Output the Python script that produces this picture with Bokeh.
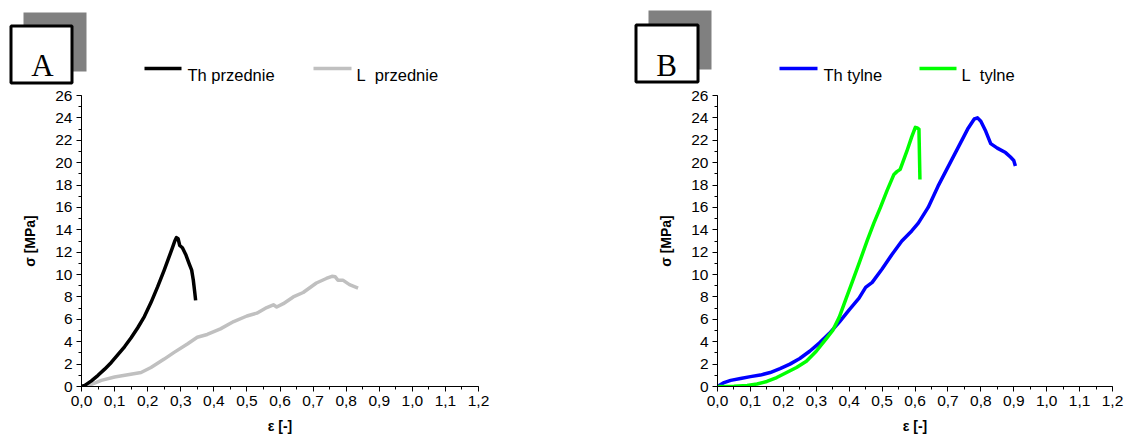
from bokeh.plotting import figure
from bokeh.layouts import column, row
from bokeh.models import Range1d, FixedTicker, CustomJSTickFormatter
from bokeh.embed import file_html
from bokeh.resources import INLINE
from bokeh.core.properties import value

# ---------------- data ----------------
th_przednie_eps = [0.0, 0.01, 0.03, 0.05, 0.07, 0.09, 0.11, 0.13, 0.15, 0.17, 0.19, 0.21, 0.23, 0.25, 0.265,
                   0.275, 0.282, 0.287, 0.292, 0.297, 0.305, 0.315, 0.325, 0.333, 0.338, 0.342, 0.345]
th_przednie_sig = [0.0, 0.1, 0.5, 1.0, 1.55, 2.15, 2.85, 3.55, 4.35, 5.25, 6.25, 7.5, 8.9, 10.4, 11.6,
                   12.4, 13.0, 13.3, 13.2, 12.6, 12.4, 11.8, 11.0, 10.4, 9.5, 8.5, 7.7]

l_przednie_eps = [0.0, 0.03, 0.06, 0.10, 0.14, 0.18, 0.21, 0.25, 0.28, 0.32, 0.35, 0.38, 0.42, 0.46, 0.50, 0.53,
                  0.56, 0.58, 0.59, 0.61, 0.64, 0.67, 0.71, 0.74, 0.757, 0.767, 0.775, 0.79, 0.81, 0.836]
l_przednie_sig = [0.0, 0.2, 0.55, 0.85, 1.05, 1.25, 1.7, 2.45, 3.05, 3.8, 4.4, 4.65, 5.15, 5.8, 6.3, 6.55,
                  7.05, 7.3, 7.1, 7.4, 8.0, 8.4, 9.25, 9.65, 9.85, 9.8, 9.5, 9.5, 9.1, 8.8]

th_tylne_eps = [0.0, 0.02, 0.04, 0.07, 0.10, 0.13, 0.16, 0.19, 0.22, 0.25, 0.28, 0.31, 0.34, 0.37, 0.40, 0.43,
                0.45, 0.47, 0.50, 0.53, 0.56, 0.59, 0.61, 0.64, 0.67, 0.70, 0.73, 0.76, 0.78, 0.79, 0.80,
                0.815, 0.83, 0.85, 0.875, 0.89, 0.90, 0.905]
th_tylne_sig = [0.0, 0.35, 0.55, 0.72, 0.88, 1.02, 1.25, 1.6, 2.0, 2.5, 3.15, 3.9, 4.75, 5.75, 6.85, 7.9,
                8.85, 9.3, 10.5, 11.8, 13.0, 13.9, 14.6, 16.0, 17.9, 19.6, 21.3, 23.0, 23.9, 24.0, 23.7,
                22.8, 21.7, 21.3, 20.9, 20.5, 20.2, 19.7]

l_tylne_eps = [0.0, 0.05, 0.09, 0.12, 0.15, 0.18, 0.21, 0.24, 0.27, 0.30, 0.33, 0.35, 0.37, 0.39, 0.41, 0.43,
               0.455, 0.475, 0.495, 0.515, 0.536, 0.545, 0.555, 0.575, 0.59, 0.601, 0.607, 0.612, 0.615]
l_tylne_sig = [0.0, 0.02, 0.09, 0.22, 0.45, 0.8, 1.25, 1.7, 2.25, 3.15, 4.25, 5.0, 6.2, 7.8, 9.4, 11.0,
               13.05, 14.6, 16.0, 17.5, 18.95, 19.2, 19.4, 21.0, 22.3, 23.15, 23.1, 23.0, 18.5]

x_ticks = [0.0, 0.1, 0.2, 0.3, 0.4, 0.5, 0.6, 0.7, 0.8, 0.9, 1.0, 1.1, 1.2]
x_tick_labels = ["0,0", "0,1", "0,2", "0,3", "0,4", "0,5", "0,6", "0,7", "0,8", "0,9", "1,0", "1,1", "1,2"]
x_minor = [0.0, 0.05, 0.1, 0.15, 0.2, 0.25, 0.3, 0.35, 0.4, 0.45, 0.5, 0.55, 0.6, 0.65, 0.7, 0.75, 0.8,
           0.85, 0.9, 0.95, 1.0, 1.05, 1.1, 1.15, 1.2]
y_ticks = [0, 2, 4, 6, 8, 10, 12, 14, 16, 18, 20, 22, 24, 26]
y_minor = list(range(0, 27))

panel_letters = ["A", "B"]
legend_a = ["Th przednie", "L\u00a0 przednie"]
legend_b = ["Th tylne", "L\u00a0 tylne"]
x_label = "ε [-]"
y_label = "σ [MPa]"

FONT = "Liberation Sans"


def style(p):
    p.grid.grid_line_color = None
    p.outline_line_color = None
    p.background_fill_color = "white"
    p.xaxis.ticker = FixedTicker(ticks=x_ticks, minor_ticks=x_minor)
    p.yaxis.ticker = FixedTicker(ticks=y_ticks, minor_ticks=y_minor)
    p.xaxis.formatter = CustomJSTickFormatter(
        args=dict(xt=x_ticks, labs=x_tick_labels),
        code="""let b = 0;
for (let i = 0; i < xt.length; i++) {
  if (Math.abs(xt[i] - tick) < Math.abs(xt[b] - tick)) b = i;
}
return labs[b];""")
    for ax in (p.xaxis[0], p.yaxis[0]):
        ax.axis_line_color = "black"
        ax.axis_line_width = 1
        ax.major_tick_line_color = "black"
        ax.minor_tick_line_color = "black"
        ax.major_tick_out = 5
        ax.major_tick_in = 0
        ax.minor_tick_out = 3
        ax.minor_tick_in = 0
        ax.major_label_text_font = FONT
        ax.major_label_text_font_size = "15.5px"
        ax.major_label_text_color = "black"
        ax.axis_label_text_font = FONT
        ax.axis_label_text_font_size = "14px"
        ax.axis_label_text_font_style = "bold"
        ax.axis_label_text_color = "black"
        ax.major_label_standoff = 4
    p.xaxis.axis_label = x_label
    p.yaxis.axis_label = y_label
    p.xaxis.axis_label_standoff = 9
    p.yaxis.axis_label_standoff = 14


pa = figure(width=563, height=352, x_range=Range1d(0, 1.2), y_range=Range1d(0, 26),
            toolbar_location=None, output_backend="svg",
            min_border_left=81, min_border_right=85, min_border_top=9, min_border_bottom=52)
style(pa)
pa.line(l_przednie_eps, l_przednie_sig, line_color="#c0c0c0", line_width=3.5, line_join="round")
pa.line(th_przednie_eps, th_przednie_sig, line_color="black", line_width=3.5, line_join="round")

pb = figure(width=562, height=352, x_range=Range1d(0, 1.2), y_range=Range1d(0, 26),
            toolbar_location=None, output_backend="svg",
            min_border_left=154, min_border_right=13, min_border_top=9, min_border_bottom=52)
style(pb)
pb.line(th_tylne_eps, th_tylne_sig, line_color="#0000ff", line_width=3.5, line_join="round")
pb.line(l_tylne_eps, l_tylne_sig, line_color="#00ff00", line_width=3.5, line_join="round")

# ---------------- header (panel letters and legends) ----------------
hdr = figure(width=1125, height=86, x_range=Range1d(0, 1125), y_range=Range1d(86, 0),
             toolbar_location=None, output_backend="svg", min_border=0,
             x_axis_type=None, y_axis_type=None, outline_line_color=None)
hdr.grid.visible = False

hdr.quad(left=[23, 648], right=[86, 711], top=[12, 10], bottom=[71, 69],
         fill_color="#808080", line_color=None)
hdr.quad(left=[10.5, 635.5], right=[71.5, 697.5], top=[25.5, 24.5], bottom=[82.5, 81.5],
         fill_color="white", line_color="black", line_width=3)
hdr.text(x=[42, 666], y=[65, 65], text=panel_letters, text_font=value("Liberation Serif"),
         text_font_size="31px", text_align="center", text_baseline="alphabetic", text_color="black")

hdr.segment(x0=[144, 313], y0=[68, 68], x1=[181, 351], y1=[68, 68],
            line_color=["black", "#c0c0c0"], line_width=3.5)
hdr.text(x=[187, 356], y=[74, 74], text=legend_a, text_font=value(FONT), text_font_size="16.5px",
         text_align="left", text_baseline="alphabetic", text_color="black")

hdr.segment(x0=[779, 919], y0=[68, 68], x1=[817, 956], y1=[68, 68],
            line_color=["#0000ff", "#00ff00"], line_width=3.5)
hdr.text(x=[823, 961], y=[74, 74], text=legend_b, text_font=value(FONT), text_font_size="16.5px",
         text_align="left", text_baseline="alphabetic", text_color="black")

layout = column(hdr, row(pa, pb))
open("out.html", "w").write(file_html(layout, INLINE))
